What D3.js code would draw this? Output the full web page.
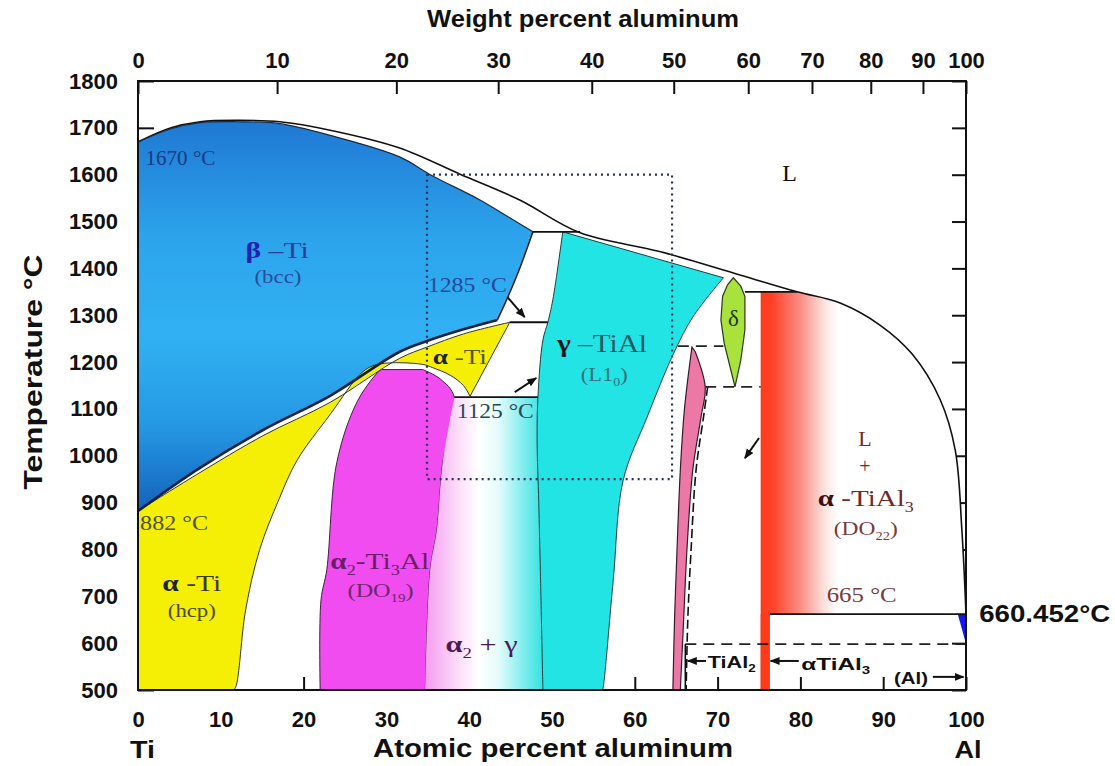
<!DOCTYPE html>
<html>
<head>
<meta charset="utf-8">
<script src="https://cdn.jsdelivr.net/npm/d3@7"></script>
<style>
  body { margin: 0; background: #fff; }
  svg { display: block; }
</style>
</head>
<body>
<div id="chart"></div>
<script>
"use strict"

// ---------- values: [atomic % Al, temperature °C] ----------
let tempTicks = [500, 600, 700, 800, 900, 1000, 1100, 1200, 1300, 1400, 1500, 1600, 1700, 1800];
let atTicks = [0, 10, 20, 30, 40, 50, 60, 70, 80, 90, 100];
let wtLabels = ["0", "10", "20", "30", "40", "50", "60", "70", "80", "90", "100"];
let wtAtPos = [0, 16.8, 31.2, 43.5, 54.8, 64.7, 73.7, 81.4, 88.5, 94.8, 100];

let liquidus = [[0, 1670], [4, 1700], [7.5, 1713], [12, 1716], [17.1, 1713], [23.2, 1695], [31.6, 1657],
    [38.9, 1601], [46.1, 1546], [53.4, 1476], [63, 1436], [72.7, 1386], [79.6, 1350], [84.8, 1326],
    [89.6, 1279], [93.5, 1217], [96.9, 1119], [98.7, 1012], [99.5, 842], [100, 662]];
let betaSolidus = [[0, 1670], [4, 1698], [7.5, 1711], [12, 1713], [17.1, 1709], [23.2, 1684], [31.6, 1638],
    [35.3, 1600], [41.3, 1546], [44.9, 1508], [47.7, 1478]];
let betaRight = [[47.7, 1478], [46.1, 1400], [44.6, 1336], [43.4, 1290]];
let betaTransus = [[0, 882], [7.1, 970], [15.1, 1055], [23.2, 1128], [31.6, 1222], [34.9, 1245], [39.3, 1270], [43.4, 1290]];
let alphaTop = [[0, 882], [7.1, 960], [15.1, 1043], [23.2, 1114], [31.6, 1208], [34.9, 1232], [39.3, 1260], [44.9, 1285]];
let alphaLower = [[40.1, 1127], [39.3, 1150], [37.7, 1172], [35.6, 1188], [34.4, 1195], [29.2, 1196], [27.2, 1180],
    [23.2, 1088], [19.2, 990], [17.0, 906], [14.7, 800], [13.0, 671], [11.8, 506], [11.5, 500]];
let alpha2Left = [[22.0, 500], [22.1, 692], [22.8, 757], [24.0, 985], [26.4, 1113], [28.9, 1177], [29.4, 1184]];
let alpha2Right = [[34.4, 1184], [36.5, 1164], [38.2, 1125], [36.8, 985], [36.1, 842], [35.3, 757], [34.7, 500]];
let gammaLeft = [[51.3, 1478], [50.1, 1333], [49.5, 1285], [48.9, 1247], [48.3, 1125], [48.2, 1034], [48.4, 900],
    [48.6, 750], [48.9, 500]];
let gammaRight = [[56.1, 500], [56.2, 507], [57.4, 735], [58.6, 948], [61.5, 1083], [64.6, 1215], [67.0, 1296], [70.7, 1380]];
let tial2Left = [[64.6, 500], [64.8, 650], [65.1, 800], [65.5, 970], [66.0, 1100], [66.9, 1232]];
let tial2Right = [[67.3, 1222], [68.5, 1147], [68.0, 1083], [67.0, 970], [66.3, 800], [65.9, 650], [65.5, 500]];
let tial2Dash = [[68.8, 1147], [68.3, 1083], [67.4, 970], [66.8, 800], [66.4, 650], [66.2, 500]];
let deltaLens = [[71.9, 1380], [72.8, 1362], [73.3, 1340], [73.3, 1269], [72.8, 1204], [72.1, 1147], [71.5, 1190],
    [70.8, 1240], [70.4, 1290], [70.6, 1340], [71.2, 1365]];
let tial3Bar = [[75.2, 500], [75.2, 1350], [79.6, 1350]];
let tial3Foot = [[100, 662], [76.3, 662], [76.3, 500]];
let alSolvus = [[99.0, 662], [100, 662], [99.9, 605]];

// isotherms: [temperature, from %, to %]
let solidIsotherms = [[1478, 47.7, 53.4], [1285, 44.9, 49.5], [1125, 38.2, 48.3], [1350, 73.3, 79.6], [662, 76.3, 100]];
let dashedIsotherms = [[1234, 65.2, 70.7], [1147, 68.5, 75.2], [598, 66.1, 100]];
let zoomBox = [[34.9, 1600], [64.5, 950]];

// ---------- drawing ----------
const W = 1115, H = 766;
const SANS = "'Liberation Sans', Arial, sans-serif";
const SERIF = "'Liberation Serif', 'Times New Roman', serif";

let svg = d3.select("#chart").append("svg").attr("width", W).attr("height", H);
let x = d3.scaleLinear().domain([0, 100]).range([138, 966]);
let y = d3.scaleLinear().domain([500, 1800]).range([690, 81]);
let line = d3.line().x(d => x(d[0])).y(d => y(d[1]));
let smooth = d3.line().x(d => x(d[0])).y(d => y(d[1])).curve(d3.curveCatmullRom.alpha(0.5));

// closed outline from several pieces; each piece is [points, isSmooth]
function outline(pieces) {
    return pieces.map((p, i) => {
        let d = (p[1] ? smooth : line)(p[0]);
        return i ? "L" + d.slice(1) : d;
    }).join("") + "Z";
}
let rev = a => a.slice().reverse();

let defs = svg.append("defs");
function gradient(id, x1, y1, x2, y2, stops) {
    let g = defs.append("linearGradient").attr("id", id).attr("gradientUnits", "userSpaceOnUse")
        .attr("x1", x1).attr("y1", y1).attr("x2", x2).attr("y2", y2);
    stops.forEach(s => g.append("stop").attr("offset", s[0]).attr("stop-color", s[1]));
}
gradient("gBeta", 0, y(1716), 0, y(882), [[0, "#1f78d2"], [0.3, "#2ca4ec"], [0.55, "#31b1f3"], [0.78, "#2598e4"], [1, "#1463bb"]]);
gradient("gA2G", x(34.7), 0, x(49), 0, [[0, "#f59cf0"], [0.3, "#fde2fa"], [0.45, "#ffffff"], [0.62, "#e4fbfb"], [1, "#2fe2e2"]]);
gradient("gTiAl3", x(75.2), 0, x(84.5), 0, [[0, "#ff3a1a"], [0.15, "#ff4128"], [0.5, "#f98a80"], [0.82, "#fde0dc"], [1, "#ffffff"]]);

defs.append("marker").attr("id", "arrow").attr("viewBox", "0 0 10 10").attr("refX", 9).attr("refY", 5)
    .attr("markerWidth", 5).attr("markerHeight", 5).attr("orient", "auto")
    .append("path").attr("d", "M0,1 L10,5 L0,9 Z").attr("fill", "#111");

// axes (drawn first so the phase fields hide the ticks they cover)
function styleAxis(g, size) {
    g.select(".domain").remove();
    g.selectAll("line").attr("stroke", "#111").attr("stroke-width", 2);
    g.selectAll("text").attr("font-family", SANS).attr("font-weight", "bold").attr("font-size", size).attr("fill", "#111");
}
svg.append("g").attr("transform", "translate(138,0)")
    .call(d3.axisLeft(y).tickValues(tempTicks).tickSizeInner(-16).tickSizeOuter(0).tickPadding(20).tickFormat(d3.format("d")))
    .call(g => styleAxis(g, 22));
svg.append("g").attr("transform", "translate(966,0)")
    .call(d3.axisRight(y).tickValues(tempTicks).tickSizeInner(-14).tickSizeOuter(0).tickFormat(""))
    .call(g => styleAxis(g, 22));
svg.append("g").attr("transform", "translate(0,690)")
    .call(d3.axisBottom(x).tickValues(atTicks).tickSizeInner(-13).tickSizeOuter(0).tickPadding(21).tickFormat(d3.format("d")))
    .call(g => styleAxis(g, 22));
svg.append("g").attr("transform", "translate(0,81)")
    .call(d3.axisTop(x).tickValues(wtAtPos).tickSizeInner(-13).tickSizeOuter(0).tickPadding(13).tickFormat((d, i) => wtLabels[i]))
    .call(g => styleAxis(g, 22));

// phase fields
let fields = svg.append("g");
fields.append("path").attr("d", outline([[betaSolidus, true], [betaRight, true], [rev(betaTransus), true]]))
    .attr("fill", "url(#gBeta)");
fields.append("path").attr("d", outline([[alphaTop, true], [alphaLower, true], [[[11.5, 500], [0, 500]], false]]))
    .attr("fill", "#f4ef05").attr("stroke", "#333").attr("stroke-width", 1);
fields.append("path").attr("d", outline([[alpha2Left, true], [alpha2Right, true]]))
    .attr("fill", "#f04cef").attr("stroke", "#4a1a4a").attr("stroke-width", 1);
fields.append("path").attr("d", outline([[[[38.2, 1125], [48.3, 1125]], false], [gammaLeft.slice(4), true],
        [rev(alpha2Right.slice(2)), true]]))
    .attr("fill", "url(#gA2G)");
fields.append("path").attr("d", outline([[gammaLeft, true], [gammaRight, true]]))
    .attr("fill", "#22e4e4").attr("stroke", "#1f3f3f").attr("stroke-width", 1);
fields.append("path").attr("d", outline([[tial2Left, true], [tial2Right, true]]))
    .attr("fill", "#ec78a6").attr("stroke", "#3a1a2a").attr("stroke-width", 1.2);
fields.append("path").attr("d", outline([[deltaLens, false]]))
    .attr("fill", "#a9e23c").attr("stroke", "#2a3a1a").attr("stroke-width", 1.2);
fields.append("path").attr("d", outline([[tial3Bar, false], [liquidus.slice(12), true], [tial3Foot, false]]))
    .attr("fill", "url(#gTiAl3)");
fields.append("rect").attr("x", x(75.2)).attr("y", y(662)).attr("width", x(76.3) - x(75.2)).attr("height", y(500) - y(662))
    .attr("fill", "#ff3a1a");
fields.append("path").attr("d", outline([[alSolvus, false]])).attr("fill", "#1515ee");

// phase boundaries
let bounds = svg.append("g").attr("fill", "none").attr("stroke-linejoin", "round");
bounds.append("path").attr("d", smooth(liquidus)).attr("stroke", "#111").attr("stroke-width", 1.6);
bounds.append("path").attr("d", smooth(betaSolidus)).attr("stroke", "#1a2a40").attr("stroke-width", 1.2);
bounds.append("path").attr("d", smooth(betaRight)).attr("stroke", "#111").attr("stroke-width", 1.4);
bounds.append("path").attr("d", smooth(betaTransus)).attr("stroke", "#0e2240").attr("stroke-width", 2.6);
bounds.append("path").attr("d", smooth(tial2Dash)).attr("stroke", "#111").attr("stroke-width", 1.6)
    .attr("stroke-dasharray", "9,4");
bounds.selectAll(".iso").data(solidIsotherms).enter().append("line")
    .attr("x1", d => x(d[1])).attr("x2", d => x(d[2])).attr("y1", d => y(d[0])).attr("y2", d => y(d[0]))
    .attr("stroke", "#111").attr("stroke-width", 1.8);
bounds.selectAll(".dash").data(dashedIsotherms).enter().append("line")
    .attr("x1", d => x(d[1])).attr("x2", d => x(d[2])).attr("y1", d => y(d[0])).attr("y2", d => y(d[0]))
    .attr("stroke", "#222").attr("stroke-width", 1.8).attr("stroke-dasharray", "11,7");
bounds.append("line").attr("x1", x(66.1)).attr("x2", x(66.1)).attr("y1", y(598)).attr("y2", y(500))
    .attr("stroke", "#111").attr("stroke-width", 1.6);
bounds.append("rect").attr("x", x(zoomBox[0][0])).attr("y", y(zoomBox[0][1]))
    .attr("width", x(zoomBox[1][0]) - x(zoomBox[0][0])).attr("height", y(zoomBox[1][1]) - y(zoomBox[0][1]))
    .attr("stroke", "#26305a").attr("stroke-width", 2.2).attr("stroke-dasharray", "2,4");

// frame
svg.append("rect").attr("x", 138).attr("y", 81).attr("width", 828).attr("height", 609)
    .attr("fill", "none").attr("stroke", "#111").attr("stroke-width", 2);

// arrows
let arrows = [[[44.6, 1339], [46.7, 1296]], [[45.5, 1136], [48.1, 1166]], [[75.0, 1038], [73.3, 995]],
    [[68.6, 562], [66.4, 562]], [[79.8, 562], [76.4, 562]], [[96.0, 528], [99.7, 528]]];
svg.append("g").selectAll("line").data(arrows).enter().append("line")
    .attr("x1", d => x(d[0][0])).attr("y1", d => y(d[0][1])).attr("x2", d => x(d[1][0])).attr("y2", d => y(d[1][1]))
    .attr("stroke", "#111").attr("stroke-width", 2).attr("marker-end", "url(#arrow)");

// labels: parts are [text, options]
function label(pos, parts, o) {
    let t = svg.append("text").attr("x", x(pos[0])).attr("y", y(pos[1]))
        .attr("font-family", o.font || SERIF).attr("font-size", o.size)
        .attr("text-anchor", o.anchor || "start").attr("fill", o.color || "#111");
    if (o.bold) t.attr("font-weight", "bold");
    if (o.len) t.attr("textLength", o.len).attr("lengthAdjust", "spacingAndGlyphs");
    let shifted = false;
    parts.forEach(p => {
        let s = t.append("tspan").text(p[0]);
        let opt = p[1] || {};
        if (opt.sub) {
            s.attr("font-size", o.size * 0.62).attr("dy", shifted ? 0 : o.size * 0.25);
            shifted = true;
        } else if (shifted) {
            s.attr("dy", -o.size * 0.25);
            shifted = false;
        }
        if (opt.bold) s.attr("font-weight", "bold");
        if (opt.color) s.attr("fill", opt.color);
    });
    return t;
}

label([0.9, 1620], [["1670 °C"]], {size: 20, len: 70, color: "#173c84"});
label([13.0, 1422], [["β", {bold: true, color: "#2222b0"}], [" –Ti"]], {size: 24, len: 63, color: "#2b3e98"});
label([16.9, 1369], [["(bcc)"]], {size: 19, len: 47, color: "#2c4aa0", anchor: "middle"});
label([35.0, 1350], [["1285 °C"]], {size: 21, len: 79, color: "#27489a"});
label([35.6, 1196], [["α", {bold: true, color: "#222"}], [" -Ti"]], {size: 22, len: 54, color: "#5a5a20"});
label([38.5, 1081], [["1125 °C"]], {size: 21, len: 77, color: "#244a5a"});
label([50.6, 1222], [["γ", {bold: true, color: "#101820"}], [" –TiAl"]], {size: 25, len: 90, color: "#245866"});
label([56.3, 1160], [["(L1"], ["0", {sub: true}], [")"]], {size: 19, len: 47, color: "#34707c", anchor: "middle"});
label([71.9, 1277], [["δ"]], {size: 23, color: "#1c3a10", anchor: "middle"});
label([78.7, 1587], [["L"]], {size: 24, color: "#111", anchor: "middle"});
label([87.8, 1021], [["L"]], {size: 22, color: "#6e2a2a", anchor: "middle"});
label([87.8, 963], [["+"]], {size: 20, color: "#6e2a2a", anchor: "middle"});
label([87.9, 893], [["α", {bold: true, color: "#3a1010"}], [" -TiAl"], ["3", {sub: true}]], {size: 23, len: 96, color: "#6e2a2a", anchor: "middle"});
label([87.9, 831], [["(DO"], ["22", {sub: true}], [")"]], {size: 19, len: 64, color: "#7a3a3a", anchor: "middle"});
label([87.4, 688], [["665 °C"]], {size: 20, len: 70, color: "#7a3a3a", anchor: "middle"});
label([0.25, 842], [["882 °C"]], {size: 20, len: 68, color: "#505018"});
label([6.5, 711], [["α", {bold: true, color: "#222"}], [" -Ti"]], {size: 24, len: 59, color: "#3a3a20", anchor: "middle"});
label([6.5, 656], [["(hcp)"]], {size: 19, len: 48, color: "#4a4a30", anchor: "middle"});
label([29.2, 758], [["α", {bold: true}], ["2", {sub: true}], ["-Ti"], ["3", {sub: true}], ["Al"]], {size: 23, len: 99, color: "#6a1e6a", anchor: "middle"});
label([29.3, 699], [["(DO"], ["19", {sub: true}], [")"]], {size: 19, len: 66, color: "#6a2a6a", anchor: "middle"});
label([41.5, 581], [["α", {bold: true}], ["2", {sub: true}], [" + γ"]], {size: 23, len: 72, color: "#4a1a5a", anchor: "middle"});
label([101.6, 645], [["660.452°C"]], {size: 24, len: 131, font: SANS, bold: true});
label([68.8, 547], [["TiAl"], ["2", {sub: true}]], {size: 17, len: 48, font: SANS, bold: true});
label([80.1, 543], [["αTiAl"], ["3", {sub: true}]], {size: 17, len: 69, font: SANS, bold: true});
label([91.3, 513], [["(Al)"]], {size: 17, len: 34, font: SANS, bold: true});

// axis titles
function title(tr, txt, size, len, anchor) {
    svg.append("text").attr("transform", tr).attr("text-anchor", anchor || "middle")
        .attr("font-family", SANS).attr("font-weight", "bold").attr("font-size", size).attr("fill", "#111")
        .attr("textLength", len).attr("lengthAdjust", "spacingAndGlyphs").text(txt);
}
title("translate(583,27)", "Weight percent aluminum", 24, 312);
title("translate(553,757)", "Atomic percent aluminum", 26, 360);
title("translate(130,758)", "Ti", 24, 25, "start");
title("translate(968,758)", "Al", 24, 27);
title("translate(42,372) rotate(-90)", "Temperature °C", 26, 235);
</script>
</body>
</html>
